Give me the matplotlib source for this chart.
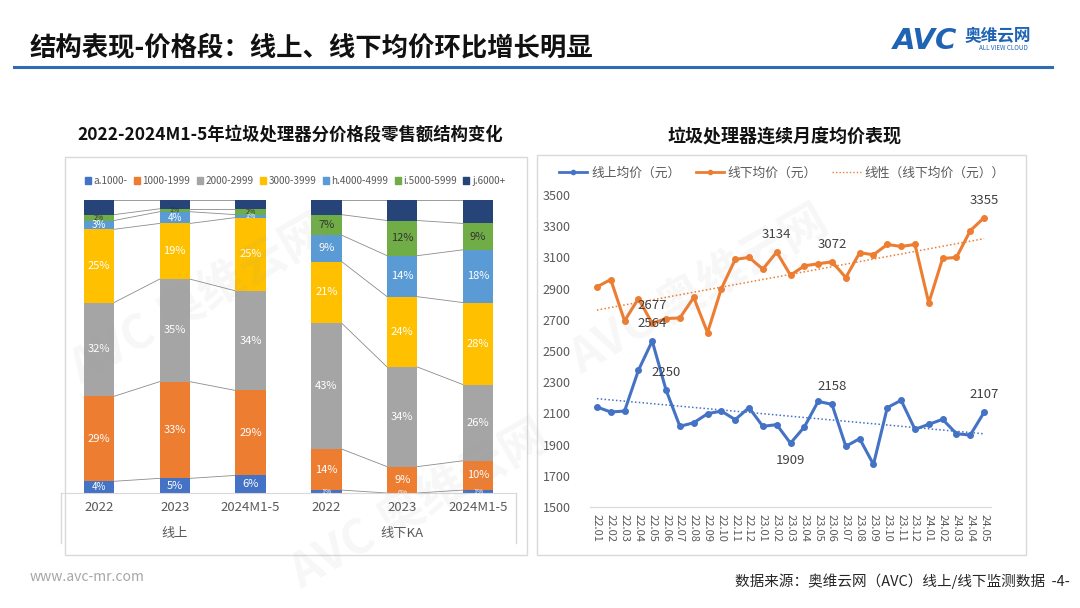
import matplotlib
matplotlib.use('Agg')
import matplotlib.pyplot as plt
import matplotlib.transforms as mtransforms
from matplotlib.lines import Line2D
from matplotlib.patches import Rectangle, Patch
import numpy as np

plt.rcParams['font.family'] = ['Noto Sans CJK SC', 'DejaVu Sans']

# ---- left chart: retail share by price band (%) ----
years = ['2022', '2023', '2024M1-5', '2022', '2023', '2024M1-5']
channels = ['线上', '线下KA']
bands = ['a.1000-', '1000-1999', '2000-2999', '3000-3999', 'h.4000-4999', 'i.5000-5999', 'j.6000+']
band_colors = ['#4472C4', '#ED7D31', '#A5A5A5', '#FFC000', '#5B9BD5', '#70AD47', '#264478']
share_a = [4, 5, 6, 1, 0, 1]
share_1000 = [29, 33, 29, 14, 9, 10]
share_2000 = [32, 35, 34, 43, 34, 26]
share_3000 = [25, 19, 25, 21, 24, 28]
share_4000 = [3, 4, 1, 9, 14, 18]
share_5000 = [2, 1, 2, 7, 12, 9]
share_6000 = [5, 3, 3, 5, 7, 8]

# ---- right chart: monthly average price (yuan) ----
months = ['22.01', '22.02', '22.03', '22.04', '22.05', '22.06', '22.07', '22.08', '22.09', '22.10',
          '22.11', '22.12', '23.01', '23.02', '23.03', '23.04', '23.05', '23.06', '23.07', '23.08',
          '23.09', '23.10', '23.11', '23.12', '24.01', '24.02', '24.03', '24.04', '24.05']
online = [2141, 2109, 2115, 2376, 2564, 2250, 2017, 2040, 2098, 2115,
          2060, 2137, 2017, 2028, 1909, 2013, 2177, 2158, 1889, 1938,
          1773, 2137, 2184, 1998, 2030, 2062, 1970, 1961, 2107]
offline = [2911, 2958, 2693, 2836, 2677, 2708, 2712, 2843, 2618, 2900,
           3087, 3100, 3025, 3134, 2986, 3046, 3059, 3072, 2971, 3130,
           3117, 3183, 3170, 3183, 2808, 3093, 3100, 3271, 3355]
online_labeled = [4, 5, 14, 17, 28]
offline_labeled = [4, 13, 17, 28]
below_labeled = [14]

W, H = 1080, 608
fig = plt.figure(figsize=(W / 100, H / 100), dpi=100)

def fx(x):
    return x / W

def fy(y):
    return 1 - y / H

# faint watermarks
for (wx, wy) in [(200, 300), (700, 290), (420, 505)]:
    fig.text(fx(wx), fy(wy), 'AVC 奥维云网', fontsize=34, fontweight='bold', color='#9E9E9E', alpha=0.08,
             rotation=30, ha='center', va='center', zorder=10)

# header
fig.text(fx(30), fy(48), '结构表现-价格段：线上、线下均价环比增长明显', fontsize=19, fontweight='bold',
         color='#111111', va='center', ha='left')
fig.add_artist(Line2D([fx(14), fx(1052)], [fy(67), fy(67)], color='#2E6DB4', lw=2.2))
fig.text(fx(893), fy(41), 'AVC', fontsize=21, fontweight='bold', fontstyle='italic',
         color='#1F63B4', va='center', ha='left', family='DejaVu Sans')
fig.text(fx(965), fy(36), '奥维云网', fontsize=12, fontweight='bold', color='#1F63B4', va='center', ha='left')
fig.text(fx(979), fy(48), 'ALL VIEW CLOUD', fontsize=4.5, color='#1F63B4', va='center', ha='left')

# footer
fig.text(fx(30), fy(577), 'www.avc-mr.com', fontsize=10, color='#A6A6A6', va='center', ha='left')
fig.text(fx(1070), fy(581), '数据来源：奥维云网（AVC）线上/线下监测数据  -4-', fontsize=10.5, color='#262626',
         va='center', ha='right')

# panel boxes
fig.add_artist(Rectangle((fx(65), fy(555)), fx(527) - fx(65), fy(157) - fy(555), fill=False,
                         edgecolor='#D9D9D9', lw=1, transform=fig.transFigure))
fig.add_artist(Rectangle((fx(537), fy(555)), fx(1026) - fx(537), fy(155) - fy(555), fill=False,
                         edgecolor='#D9D9D9', lw=1, transform=fig.transFigure))
fig.text(fx(290), fy(135), '2022-2024M1-5年垃圾处理器分价格段零售额结构变化', fontsize=12.5, fontweight='bold',
         color='#111111', ha='center', va='center')
fig.text(fx(785), fy(137), '垃圾处理器连续月度均价表现', fontsize=13, fontweight='bold',
         color='#111111', ha='center', va='center')

# ---------------- left stacked bars ----------------
ax = fig.add_axes([fx(61), fy(493), fx(516) - fx(61), fy(200) - fy(493)])
ax.set_facecolor('none')
series = [share_a, share_1000, share_2000, share_3000, share_4000, share_5000, share_6000]
x = np.arange(len(years))
bw = 0.4
bottom = np.zeros(len(years))
tops = []
for k, vals in enumerate(series):
    vals = np.array(vals, dtype=float)
    ax.bar(x, vals, bw, bottom=bottom, color=band_colors[k], label=bands[k], zorder=2)
    if k < 6:
        tc = '#333333' if k == 5 else 'white'
        for i in range(len(years)):
            if vals[i] >= 5:
                fs = 8
            elif vals[i] >= 3:
                fs = 7
            else:
                fs = 5
            ax.text(x[i], bottom[i] + vals[i] / 2, f'{int(vals[i])}%', ha='center', va='center',
                    fontsize=fs, color=tc, zorder=3)
    bottom = bottom + vals
    tops.append(bottom.copy())

# series lines within each channel group
for g in [(0, 1, 2), (3, 4, 5)]:
    for a, b in zip(g[:-1], g[1:]):
        for t in tops:
            ax.plot([x[a] + bw / 2, x[b] - bw / 2], [t[a], t[b]], color='#8C8C8C', lw=0.6, zorder=1)

ax.set_xlim(-0.5, len(years) - 0.5)
ax.set_ylim(0, 100)
ax.set_yticks([])
for s in ['top', 'left', 'right']:
    ax.spines[s].set_visible(False)
ax.spines['bottom'].set_color('#D9D9D9')
ax.set_xticks(x)
ax.set_xticklabels(years, fontsize=9.5, color='#595959')
ax.tick_params(axis='x', length=0, pad=6)
trans = mtransforms.blended_transform_factory(ax.transData, ax.transAxes)
ax.text(1, -0.137, channels[0], transform=trans, ha='center', va='center', fontsize=9.5, color='#595959')
ax.text(4, -0.137, channels[1], transform=trans, ha='center', va='center', fontsize=9.5, color='#595959')
for xe in [0, 1]:
    ax.plot([xe, xe], [0, -0.17], transform=ax.transAxes, color='#D9D9D9', lw=1, clip_on=False)

handles = [Patch(color=c) for c in band_colors]
fig.legend(handles, bands, loc='center', bbox_to_anchor=(fx(295), fy(181)), ncol=7, frameon=False,
           fontsize=7.2, handlelength=0.6, handleheight=0.6, handletextpad=0.3, columnspacing=0.6,
           labelcolor='#595959')

# ---------------- right line chart ----------------
ax2 = fig.add_axes([fx(590), fy(507), fx(991) - fx(590), fy(195) - fy(507)])
ax2.set_facecolor('none')
xm = np.arange(len(months))
c_on, c_off = '#4472C4', '#ED7D31'
ax2.plot(xm, online, color=c_on, lw=2.2, marker='o', ms=4, zorder=3)
ax2.plot(xm, offline, color=c_off, lw=2.2, marker='o', ms=4, zorder=3)
p_on = np.polyfit(xm, online, 1)
p_off = np.polyfit(xm, offline, 1)
ax2.plot(xm, np.polyval(p_on, xm), color=c_on, lw=1.1, ls=(0, (1, 1.5)), zorder=2)
ax2.plot(xm, np.polyval(p_off, xm), color=c_off, lw=1.1, ls=(0, (1, 1.5)), zorder=2)

for i in offline_labeled:
    ax2.annotate(str(offline[i]), (xm[i], offline[i]), xytext=(0, 8), textcoords='offset points',
                 ha='center', va='bottom', fontsize=9.5, color='#404040')
for i in online_labeled:
    if i in below_labeled:
        ax2.annotate(str(online[i]), (xm[i], online[i]), xytext=(0, -8), textcoords='offset points',
                     ha='center', va='top', fontsize=9.5, color='#404040')
    else:
        ax2.annotate(str(online[i]), (xm[i], online[i]), xytext=(0, 8), textcoords='offset points',
                     ha='center', va='bottom', fontsize=9.5, color='#404040')

ax2.set_xlim(-0.5, len(months) - 0.5)
ax2.set_ylim(1500, 3500)
ax2.set_yticks(np.arange(1500, 3501, 200))
ax2.set_xticks(xm)
ax2.set_xticklabels(months, rotation=270, fontsize=8, color='#595959')
ax2.tick_params(axis='y', length=0, pad=14, labelsize=9, labelcolor='#595959')
ax2.tick_params(axis='x', length=0, pad=5)
for s in ['top', 'left', 'right']:
    ax2.spines[s].set_visible(False)
ax2.spines['bottom'].set_color('#D9D9D9')

lh = [Line2D([], [], color=c_on, lw=2, marker='o', ms=3),
      Line2D([], [], color=c_off, lw=2, marker='o', ms=3),
      Line2D([], [], color=c_off, lw=1, ls=(0, (1, 1.5)))]
fig.legend(lh, ['线上均价（元）', '线下均价（元）', '线性（线下均价（元））'], loc='center',
           bbox_to_anchor=(fx(782), fy(173)), ncol=3, frameon=False, fontsize=9.2,
           handlelength=2.2, handletextpad=0.3, columnspacing=1.2, labelcolor='#595959')

fig.savefig('out.png', dpi=100)
